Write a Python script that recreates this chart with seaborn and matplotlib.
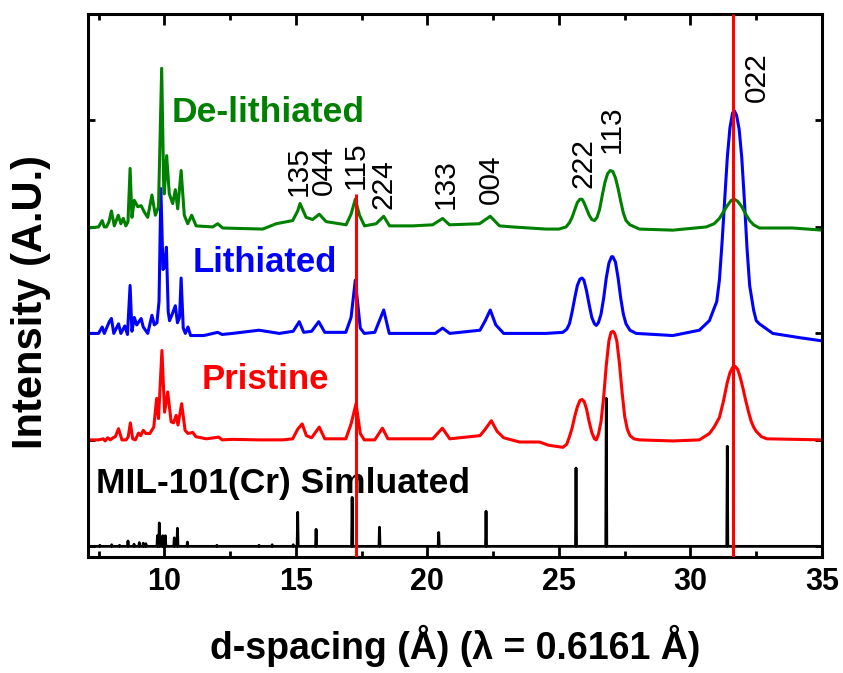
import numpy as np
import pandas as pd
import matplotlib
matplotlib.use("Agg")
import matplotlib.pyplot as plt
import seaborn as sns
from matplotlib.ticker import MultipleLocator

# ---------------- data ----------------
# d-spacing (Angstrom) and intensity above each trace's own baseline
sim_pos = [7.55, 8.0, 8.3, 8.62, 8.85, 9.05, 9.2, 9.3, 9.74, 9.81, 9.94, 10.04,
           10.38, 10.5, 10.88, 12.0, 13.6, 14.1, 14.9, 15.07, 15.77, 17.14,
           18.18, 20.43, 22.23, 25.65, 26.80, 31.40]
sim_h = [0.01, 0.015, 0.01, 0.05, 0.02, 0.035, 0.03, 0.025, 0.1, 0.22, 0.1, 0.1,
         0.08, 0.17, 0.04, 0.01, 0.01, 0.015, 0.015, 0.32, 0.16, 0.46,
         0.18, 0.13, 0.33, 0.735, 1.39, 0.94]

pristine_x = [7.1, 7.5, 7.68, 7.75, 7.85, 7.95, 8.05, 8.14, 8.26, 8.39, 8.55, 8.63,
              8.71, 8.80, 8.9, 9.02, 9.1, 9.20, 9.3, 9.45, 9.6, 9.71, 9.78, 9.91,
              10.01, 10.13, 10.26, 10.35, 10.45, 10.52, 10.66, 10.79, 10.9, 11.08,
              11.2, 11.6, 12.07, 12.2, 12.59, 13.6, 14.5, 14.88, 15.07, 15.24, 15.4,
              15.6, 15.89, 16.1, 16.9, 17.1, 17.29, 17.45, 17.6, 18.0, 18.29, 18.5,
              20.2, 20.57, 20.85, 22.0, 22.2, 22.43, 22.65, 22.9, 23.5, 24.26, 24.6,
              25.15, 25.3, 25.4, 25.5, 25.6, 25.7, 25.8, 25.88, 25.96, 26.05, 26.15,
              26.25, 26.35, 26.42, 26.5, 26.6, 26.7, 26.8, 26.9, 26.98, 27.05, 27.12,
              27.2, 27.3, 27.4, 27.5, 27.6, 27.7, 27.85, 28.06, 29.33, 30.34, 30.72,
              30.9, 31.1, 31.25, 31.4, 31.5, 31.6, 31.7, 31.8, 31.9, 32.0, 32.1, 32.2,
              32.3, 32.4, 32.5, 32.7, 32.9, 35.0]
pristine_y = [0.0, 0.0, 0.01, -0.01, 0.02, 0.0, 0.02, 0.03, 0.105, 0.0, 0.0, 0.03,
              0.16, 0.01, 0.0, 0.064, 0.04, 0.09, 0.06, 0.06, 0.12, 0.39, 0.2, 0.84,
              0.26, 0.45, 0.17, 0.16, 0.23, 0.14, 0.34, 0.09, 0.06, 0.07,
              0.03, 0.01, 0.026, 0.0, 0.005, 0.0, 0.0, 0.01, 0.1, 0.15, 0.04,
              0.02, 0.12, 0.01, 0.01, 0.15, 0.34, 0.06, 0.0, 0.0, 0.11, 0.01,
              0.01, 0.11, 0.01, 0.04, 0.1, 0.18, 0.08, 0.02, -0.02, -0.02, -0.05,
              -0.07, -0.04, 0.03, 0.11, 0.22, 0.31, 0.37, 0.38, 0.36, 0.29, 0.17,
              0.07, 0.01, 0.0, 0.05, 0.17, 0.4, 0.7, 0.93, 1.01, 1.02, 1.0,
              0.93, 0.72, 0.45, 0.22, 0.1, 0.04, 0.01, 0.0, -0.01, 0.0, 0.06,
              0.12, 0.21, 0.36, 0.54, 0.63, 0.68, 0.69, 0.66, 0.58, 0.48, 0.37, 0.27,
              0.18, 0.12, 0.08, 0.03, 0.01, 0.0]

lithiated_x = [7.1, 7.5, 7.64, 7.72, 7.91, 7.99, 8.08, 8.26, 8.35, 8.5, 8.6, 8.70,
               8.77, 8.86, 8.95, 9.12, 9.2, 9.37, 9.53, 9.62, 9.72, 9.8, 9.87, 9.95,
               10.0, 10.08, 10.15, 10.2, 10.3, 10.42, 10.5, 10.58, 10.64, 10.72, 10.8,
               10.9, 11.0, 11.5, 12.03, 12.2, 12.59, 13.6, 14.37, 14.9, 15.13, 15.3,
               15.6, 15.87, 16.1, 16.9, 17.1, 17.26, 17.45, 17.6, 18.0, 18.34, 18.55,
               19.5, 20.3, 20.58, 20.85, 22.0, 22.2, 22.39, 22.6, 22.9, 24.5, 25.15,
               25.3, 25.4, 25.5, 25.6, 25.7, 25.8, 25.88, 25.95, 26.05, 26.15, 26.25,
               26.35, 26.42, 26.5, 26.6, 26.7, 26.8, 26.9, 27.0, 27.05, 27.15, 27.25,
               27.35, 27.45, 27.55, 27.7, 27.94, 29.33, 30.34, 30.72, 31.0, 31.1, 31.2,
               31.3, 31.4, 31.5, 31.6, 31.67, 31.75, 31.85, 31.95, 32.05, 32.15, 32.25,
               32.4, 32.5, 32.62, 33.13, 34.15, 35.0]
lithiated_y = [0.0, 0.0, 0.06, 0.0, 0.11, 0.14, 0.0, 0.09, 0.0, 0.07, -0.01, 0.45,
               0.02, 0.15, 0.08, 0.14, 0.06, 0.0, 0.17, 0.08, 0.1, 0.3, 1.36, 0.6,
               0.62, 0.81, 0.2, 0.12, 0.18, 0.26, 0.1, 0.15, 0.52, 0.05, 0.0,
               0.06, -0.02, -0.02, 0.01, -0.01, 0.0, 0.03, 0.0, 0.02, 0.11, 0.01,
               0.02, 0.11, 0.01, 0.01, 0.15, 0.5, 0.05, 0.0, 0.01, 0.22, 0.0,
               0.0, 0.0, 0.05, 0.0, 0.03, 0.12, 0.22, 0.08, 0.0, 0.0, 0.01,
               0.04, 0.09, 0.2, 0.33, 0.45, 0.51, 0.52, 0.5, 0.4, 0.27, 0.15,
               0.09, 0.075, 0.1, 0.18, 0.33, 0.52, 0.66, 0.72, 0.72, 0.67, 0.52,
               0.33, 0.18, 0.09, 0.03, 0.0, -0.02, 0.03, 0.12, 0.3, 0.5, 0.85,
               1.25, 1.65, 1.93, 2.07, 2.09, 2.05, 1.92, 1.65, 1.25, 0.8, 0.45,
               0.22, 0.12, 0.09, 0.0, -0.04, -0.07]

delithiated_x = [7.1, 7.5, 7.64, 7.72, 7.80, 7.9, 7.99, 8.10, 8.25, 8.35, 8.44, 8.54,
                 8.62, 8.70, 8.77, 8.86, 8.99, 9.12, 9.24, 9.37, 9.53, 9.66, 9.78,
                 9.90, 9.98, 10.0, 10.09, 10.19, 10.32, 10.42, 10.51, 10.64, 10.76,
                 10.89, 11.04, 11.21, 11.84, 12.03, 12.22, 13.74, 14.25, 14.88, 15.07,
                 15.16, 15.39, 15.64, 15.89, 16.15, 16.91, 17.10, 17.26, 17.42, 17.61,
                 18.05, 18.34, 18.56, 19.44, 20.20, 20.58, 20.84, 21.98, 22.39, 22.74,
                 23.24, 24.51, 25.0, 25.27, 25.4, 25.5, 25.6, 25.7, 25.8, 25.88, 25.95,
                 26.05, 26.15, 26.25, 26.35, 26.45, 26.55, 26.65, 26.75, 26.85, 26.95,
                 27.05, 27.15, 27.25, 27.35, 27.45, 27.55, 27.7, 28.06, 29.33, 30.6,
                 30.9, 31.1, 31.25, 31.4, 31.55, 31.67, 31.8, 31.95, 32.1, 32.25, 32.4,
                 32.62, 33.89, 35.0]
delithiated_y = [-0.01, 0.0, 0.06, 0.0, 0.0, 0.05, 0.15, 0.01, 0.11, 0.03, 0.08, 0.01,
                 0.05, 0.55, 0.09, 0.25, 0.19, 0.2, 0.14, 0.09, 0.3, 0.11, 0.19,
                 1.49, 0.35, 0.31, 0.67, 0.31, 0.22, 0.35, 0.17, 0.53, 0.11,
                 0.03, 0.11, 0.01, 0.0, 0.03, -0.01, -0.02, 0.03, 0.06, 0.15,
                 0.22, 0.09, 0.07, 0.12, 0.05, 0.02, 0.12, 0.26, 0.11, 0.01,
                 0.03, 0.10, 0.01, 0.01, 0.02, 0.08, 0.02, 0.03, 0.10, 0.01,
                 0.0, -0.02, -0.02, 0.0, 0.04, 0.09, 0.16, 0.23, 0.26, 0.26, 0.23,
                 0.17, 0.11, 0.07, 0.06, 0.09, 0.17, 0.3, 0.42, 0.5, 0.53,
                 0.52, 0.46, 0.36, 0.24, 0.13, 0.06, 0.02, -0.02, -0.03, 0.0,
                 0.03, 0.08, 0.14, 0.2, 0.25, 0.26, 0.24, 0.19, 0.12, 0.06, 0.02,
                 -0.01, -0.01, -0.03]

series_names = ["MIL-101(Cr) Simluated", "Pristine", "Lithiated", "De-lithiated"]
series_offsets = [0, 1, 2, 3]

peak_labels = ["135", "044", "115", "224", "133", "004", "222", "113", "022"]
peak_label_x = [15.12, 16.08, 17.29, 18.33, 20.69, 22.4, 25.93, 27.02, 32.51]
peak_label_y = [3.29, 3.30, 3.36, 3.17, 3.17, 3.22, 3.37, 3.69, 4.17]

ref_line_x = [17.3, 31.6]
ref_line_top = [3.31, 5.0]

# ---------------- styling ----------------
sns.set_theme(style="ticks")
plt.rcParams['font.family'] = ['Liberation Sans', 'DejaVu Sans']
for key in ["text.color", "axes.labelcolor", "xtick.color", "ytick.color",
            "axes.edgecolor"]:
    plt.rcParams[key] = "black"

colors = ["black", "#ff0000", "#0000ff", "#008000"]
label_pos = [(7.40, 0.50), (11.43, 1.48), (11.08, 2.58), (10.27, 3.99)]
label_size = [25.5, 25, 25, 25.5]

fig = plt.figure(figsize=(8.43, 6.73), dpi=100)
ax = fig.add_axes([88 / 843, 1 - 557 / 673, (822 - 88) / 843, (557 - 14) / 673])

# simulated stick pattern: sticks on a flat baseline
sx, sy = [7.1], [0.0]
for p, h in zip(sim_pos, sim_h):
    sx += [p - 0.02, p, p + 0.02]
    sy += [0.0, h, 0.0]
sx.append(35.0)
sy.append(0.0)
sim_df = pd.DataFrame({"x": sx, "y": np.array(sy) + series_offsets[0]})
sns.lineplot(data=sim_df, x="x", y="y", sort=False, estimator=None,
             color=colors[0], lw=2.0, ax=ax)

curves = [(pristine_x, pristine_y), (lithiated_x, lithiated_y),
          (delithiated_x, delithiated_y)]
for i, (cx, cy) in enumerate(curves, start=1):
    df = pd.DataFrame({"x": cx, "y": np.array(cy) + series_offsets[i]})
    sns.lineplot(data=df, x="x", y="y", sort=False, estimator=None,
                 color=colors[i], lw=2.2, ax=ax)

for i, name in enumerate(series_names):
    ax.text(label_pos[i][0], label_pos[i][1], name, color=colors[i],
            fontsize=label_size[i], fontweight="bold", ha="left", va="baseline")

for lab, lx, ly in zip(peak_labels, peak_label_x, peak_label_y):
    ax.text(lx, ly, lab, rotation=90, ha="center", va="bottom", fontsize=21.5,
            color="black")

ax.set_xlim(7.1, 35)
ax.set_ylim(-0.1, 5.0)
for rx, rt in zip(ref_line_x, ref_line_top):
    ax.vlines(rx, -0.1, rt, color="#ff0000", lw=2.2, zorder=5)

ax.xaxis.set_major_locator(MultipleLocator(5))
ax.xaxis.set_minor_locator(MultipleLocator(2.5))
ax.set_yticks([0, 1, 2, 3, 4, 5])
ax.set_yticklabels([])
ax.tick_params(axis="x", which="major", direction="in", length=8, width=2,
               top=True, bottom=True, labelsize=22, pad=7, colors="black")
ax.tick_params(axis="x", which="minor", direction="in", length=4, width=2,
               top=True, bottom=True, colors="black")
ax.tick_params(axis="y", which="major", direction="in", length=5, width=2,
               left=True, right=True, colors="black")
for t in ax.get_xticklabels():
    t.set_fontweight("bold")
for s in ax.spines.values():
    s.set_linewidth(2.2)
    s.set_color("black")

ax.set_xlabel("d-spacing (Å) (λ = 0.6161 Å)", fontsize=27, fontweight="bold",
              va="top", color="black")
ax.set_ylabel("Intensity (A.U.)", fontsize=30, fontweight="bold", color="black")
ax.xaxis.set_label_coords(0.5, -0.125)
ax.yaxis.set_label_coords(-0.05, 0.47)

fig.savefig("out.png", dpi=100)
